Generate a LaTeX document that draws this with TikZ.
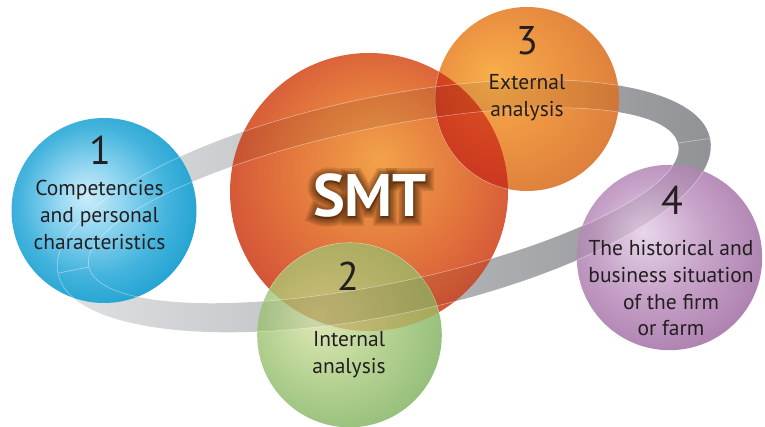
\documentclass[tikz,border=0pt]{standalone}
\usepackage{fontspec}
\setmainfont{PT Sans}
\newfontfamily\glowA[FakeBold=4]{PT Sans Bold}
\newfontfamily\glowB[FakeBold=8]{PT Sans Bold}
\newfontfamily\glowC[FakeBold=12]{PT Sans Bold}
\newfontfamily\glowD[FakeBold=16]{PT Sans Bold}
\newfontfamily\glowE[FakeBold=21]{PT Sans Bold}
\newfontfamily\glowF[FakeBold=26]{PT Sans Bold}
\usetikzlibrary{calc}

\definecolor{txt}{HTML}{231F20}
\definecolor{bluein}{HTML}{CBEDFB}
\definecolor{bluemid}{HTML}{62C2E8}
\definecolor{blueout}{HTML}{179ECD}
\definecolor{redin}{HTML}{F2A24A}
\definecolor{redmid}{HTML}{E57C3E}
\definecolor{redout}{HTML}{D04A36}
\definecolor{orin}{HTML}{F9AE4A}
\definecolor{ormid}{HTML}{EC9442}
\definecolor{orout}{HTML}{D8783A}
\definecolor{grin}{HTML}{E0E8B6}
\definecolor{grmid}{HTML}{B9D495}
\definecolor{grout}{HTML}{8BB872}
\definecolor{puin}{HTML}{E8D6EA}
\definecolor{pumid}{HTML}{C7A3C9}
\definecolor{puout}{HTML}{A677A8}
\definecolor{olin}{HTML}{CDBE7A}
\definecolor{olout}{HTML}{A2A85A}
\definecolor{drin}{HTML}{DE5420}
\definecolor{drout}{HTML}{C83222}
\definecolor{ringL}{HTML}{E2E3E5}
\definecolor{ringR}{HTML}{8F9194}
\definecolor{glow}{HTML}{4E2608}

\pgfdeclareradialshading{blueball}{\pgfpoint{-5bp}{4bp}}{color(0bp)=(bluein); color(9bp)=(bluemid!55!bluein); color(20bp)=(bluemid!60!blueout); color(31bp)=(blueout); color(50bp)=(blueout)}
\pgfdeclareradialshading{redball}{\pgfpoint{2bp}{6bp}}{color(0bp)=(redin); color(14bp)=(redmid); color(31bp)=(redout); color(50bp)=(redout)}
\pgfdeclareradialshading{orball}{\pgfpoint{-10bp}{7bp}}{color(0bp)=(orin); color(16bp)=(ormid); color(35bp)=(orout); color(50bp)=(orout)}
\pgfdeclareradialshading{grball}{\pgfpoint{-9bp}{5bp}}{color(0bp)=(grin); color(15bp)=(grmid); color(34bp)=(grout); color(50bp)=(grout)}
\pgfdeclareradialshading{puball}{\pgfpoint{-7bp}{7bp}}{color(0bp)=(puin); color(15bp)=(pumid); color(34bp)=(puout); color(50bp)=(puout)}
\pgfdeclareradialshading{olball}{\pgfpoint{-9bp}{5bp}}{color(0bp)=(olin); color(30bp)=(olout); color(50bp)=(olout)}
\pgfdeclareradialshading{drball}{\pgfpoint{-10bp}{7bp}}{color(0bp)=(drin); color(32bp)=(drout); color(50bp)=(drout)}

\def\ringpath{(384,206) ellipse [x radius=333pt, y radius=109pt, rotate=11.7] (383.5,205.5) ellipse [x radius=301pt, y radius=78pt, rotate=11.7]}
\def\circlesunion{(369,192) circle[radius=139pt] (349.5,335) circle[radius=92.3pt] (527,99) circle[radius=92pt] (669.5,257.5) circle[radius=92.7pt]}

\begin{document}
\begin{tikzpicture}[x=1pt,y=-1pt,
  ball/.style={circle, inner sep=0pt, minimum size=#1},
  numtxt/.style={font=\fontsize{40}{40}\selectfont, text=txt, inner sep=0pt},
  bodytxt/.style={font=\fontsize{21.5}{26.7}\selectfont, align=center, text=txt, inner sep=0pt},
  smttxt/.style={font=\fontsize{60}{60}\selectfont\bfseries, inner sep=0pt},
  glowtxt/.style={font=\fontsize{60}{60}\selectfont#1, inner sep=0pt, text=glow, opacity=.15, anchor=base}]
\useasboundingbox (0,0) rectangle (765,427);

% ring
\shade[even odd rule, left color=ringL, right color=ringR] \ringpath;

% circles
\node[ball=278pt, shading=redball] (cs) at (369,192) {};
\node[ball=185pt, shading=blueball] (c1) at (104,210.5) {};
\node[ball=184pt, shading=orball] (c3) at (527,99) {};
\node[ball=184.6pt, shading=grball] (c2) at (349.5,335) {};
\node[ball=185.4pt, shading=puball] (c4) at (669.5,257.5) {};

% overlaps with central circle
\begin{scope}
  \clip (369,192) circle[radius=139pt];
  \shade[shading=olball] (349.5,335) circle[radius=92.3pt];
  \shade[shading=drball] (527,99) circle[radius=92pt];
  \draw[white, opacity=.45, line width=.5pt] (349.5,335) circle[radius=92.3pt] (527,99) circle[radius=92pt];
\end{scope}

% ring seen through the circles
\begin{scope}
  \clip \circlesunion;
  \fill[black, opacity=.07, even odd rule] \ringpath;
\end{scope}
\begin{scope}
  \clip \circlesunion (104,210.5) circle[radius=92.5pt];
  \draw[white, opacity=.5, line width=.5pt] \ringpath;
\end{scope}
\draw[white, opacity=.55, line width=.5pt] (58.5,273) -- (89,267);
\draw[white, opacity=.5, line width=.5pt] (678,143) -- (709.5,138.5);

% SMT glow and text
\node[glowtxt=\glowF] (g6) at (370,218) {SMT};
\node[glowtxt=\glowE] (g5) at (370,218) {SMT};
\node[glowtxt=\glowD] (g4) at (370,218) {SMT};
\node[glowtxt=\glowC] (g3) at (370,218) {SMT};
\node[glowtxt=\glowB] (g2) at (370,218) {SMT};
\node[glowtxt=\glowA] (g1) at (370,218) {SMT};
\node[smttxt, text=white, anchor=base] (smt) at (370,216.5) {SMT};

% labels (anchor base = baseline of the last line)
\node[numtxt, anchor=base] (n1) at (100,165) {1};
\node[bodytxt, anchor=base] (t1) at (99.5,249.3) {Competencies\\and personal\\characteristics};
\node[numtxt, anchor=base] (n2) at (348,291) {2};
\node[bodytxt, anchor=base] (t2) at (349,373.3) {Internal\\analysis};
\node[numtxt, anchor=base] (n3) at (527,54.3) {3};
\node[bodytxt, anchor=base] (t3) at (527,116.7) {External\\analysis};
\node[numtxt, anchor=base] (n4) at (672,215) {4};
\node[bodytxt, anchor=base] (t4) at (671,335.7) {The historical and\\business situation\\of the firm\\or farm};
\end{tikzpicture}
\end{document}
